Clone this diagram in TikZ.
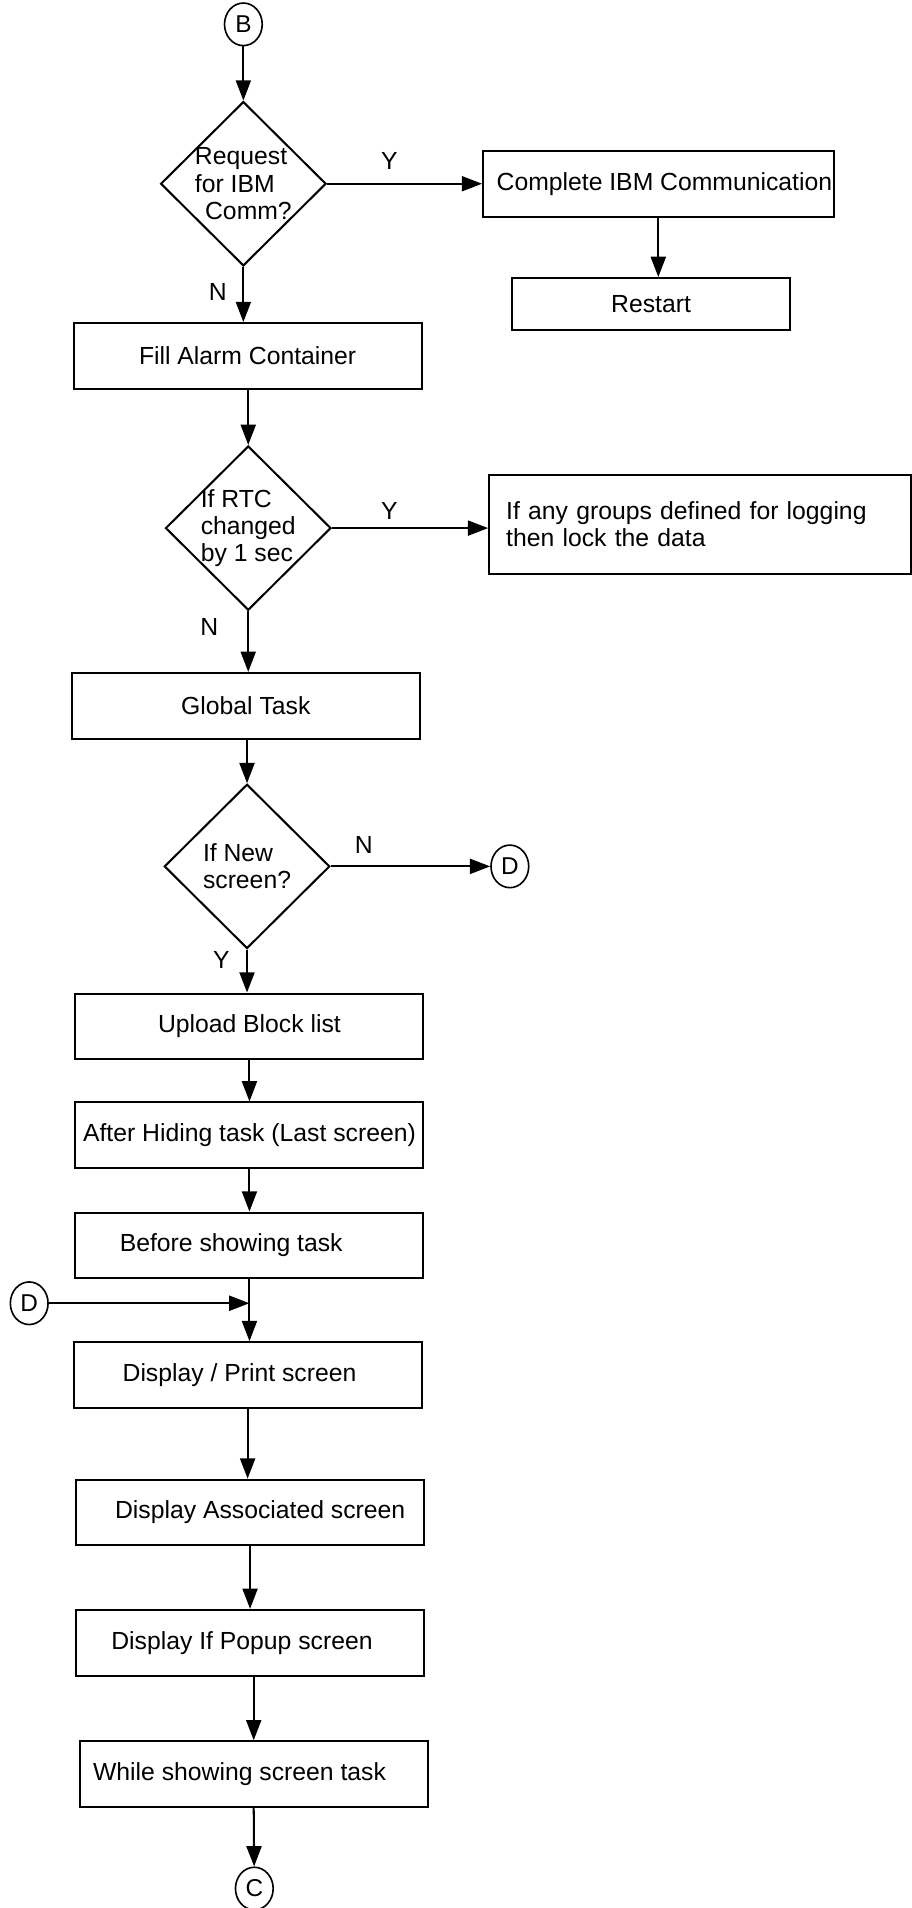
\documentclass[tikz,border=0pt]{standalone}
\usepackage{fontspec}
\setmainfont{Liberation Sans}
\usepackage{tikz}
\usetikzlibrary{positioning}
\usetikzlibrary{shapes.geometric, arrows.meta, calc}
\tikzstyle{process} = [rectangle, draw, line width=1pt, minimum width=171.6pt, minimum height=32.4pt, inner sep=0pt]
\tikzstyle{decision} = [diamond, draw, line width=1pt, minimum width=81.6pt, minimum height=81pt, inner sep=-4pt, align=left]
\tikzstyle{conn} = [ellipse, draw, line width=0.8pt, minimum width=18.6pt, minimum height=21pt, inner sep=0pt, font=\fontsize{12}{13}\selectfont]
\tikzstyle{arrow} = [line width=1pt, -{Triangle[length=10pt,width=7.4pt]}]
\tikzstyle{yn} = [inner sep=0pt]

\begin{document}
\begin{tikzpicture}[x=0.6pt, y=-0.6pt, font=\fontsize{12.2}{13.5}\selectfont]
      \useasboundingbox (0,0) rectangle (749,1568);
      %%%%%%%%%%%%%%%%%%%%%%%%%%%%%%%%%%%%%%%
      \draw (200,20) node (cB) [conn] {B};
      \draw (200,151) node (d1) [decision] {Request\\for IBM\\\hspace*{5pt}Comm?};
      \draw (541,151) node (c1) [process, minimum width=172.8pt] {\hspace*{6pt}Complete IBM Communication};
      \draw (535,250) node (r1) [process, minimum width=136.8pt, minimum height=25.8pt] {Restart};
      \draw (203.5,292.5) node (f1) [process] {Fill Alarm Container};
      \draw (204,434) node (d2) [decision] {If RTC\\changed\\by 1 sec};
      \draw (575.5,431) node (g1) [process, minimum width=208.2pt, minimum height=49.2pt, text width=191.4pt, inner xsep=8.4pt, align=left] {If any groups defined for logging\\then lock the data};
      \draw (202,580) node (g2) [process] {Global Task};
      \draw (203,712) node (d3) [decision] {If New\\screen?};
      \draw (419,712) node (cD1) [conn] {D};
      \draw (205,843.5) node (u1) [process] {Upload Block list};
      \draw (205,933) node (h1) [process] {After Hiding task (Last screen)};
      \draw (205,1023.5) node (s1) [process] {\hspace*{-18pt}Before showing task};
      \draw (24,1071) node (cD2) [conn] {D};
      \draw (203.5,1130) node (p1) [process] {\hspace*{-8pt}Display / Print screen};
      \draw (205.5,1243) node (a1) [process] {\hspace*{10pt}Display Associated screen};
      \draw (205.5,1350) node (q1) [process] {\hspace*{-8pt}Display If Popup screen};
      \draw (208.5,1458) node (w1) [process] {\hspace*{-14pt}While showing screen task};
      \draw (209,1552) node (cC) [conn] {C};
      %\draw (209,1600) node (cE) [conn] {E};
      \draw (320,132) node (l1) [yn] {Y};
      \draw (179,240) node (l2) [yn] {N};
      \draw (320,420) node (l3) [yn] {Y};
      \draw (172,515) node (l4) [yn] {N};
      \draw (299,694) node (l5) [yn] {N};
      \draw (182,789) node (l6) [yn] {Y};
      \draw[arrow] (cB)--(d1);
      \draw[arrow] (d1.east)--(c1.west);
      \draw[arrow] (c1.south)--(c1.south |- r1.north);
      \draw[arrow] (d1.south)--(d1.south |- f1.north);
      \draw[arrow] (d2.north |- f1.south)--(d2.north);
      \draw[arrow] (d2.east)--(d2.east -| g1.west);
      \draw[arrow] (d2.south)--(d2.south |- g2.north);
      \draw[arrow] (d3.north |- g2.south)--(d3.north);
      \draw[arrow] (d3.east)--(cD1.west);
      \draw[arrow] (d3.south)--(d3.south |- u1.north);
      \draw[arrow] (u1)--(h1);
      \draw[arrow] (h1)--(s1);
      \draw[arrow] (s1.south)--(s1.south |- p1.north);
      \draw[arrow] (cD2.east)--(cD2.east -| s1.south);
      \draw[arrow] (p1.south)--(p1.south |- a1.north);
      \draw[arrow] (a1)--(q1);
      \draw[arrow] (w1.north |- q1.south)--(w1.north);
      \draw[arrow] (w1.south)--(cC);
      %\draw[arrow] (cC)--(cE);
\end{tikzpicture}
\end{document}
